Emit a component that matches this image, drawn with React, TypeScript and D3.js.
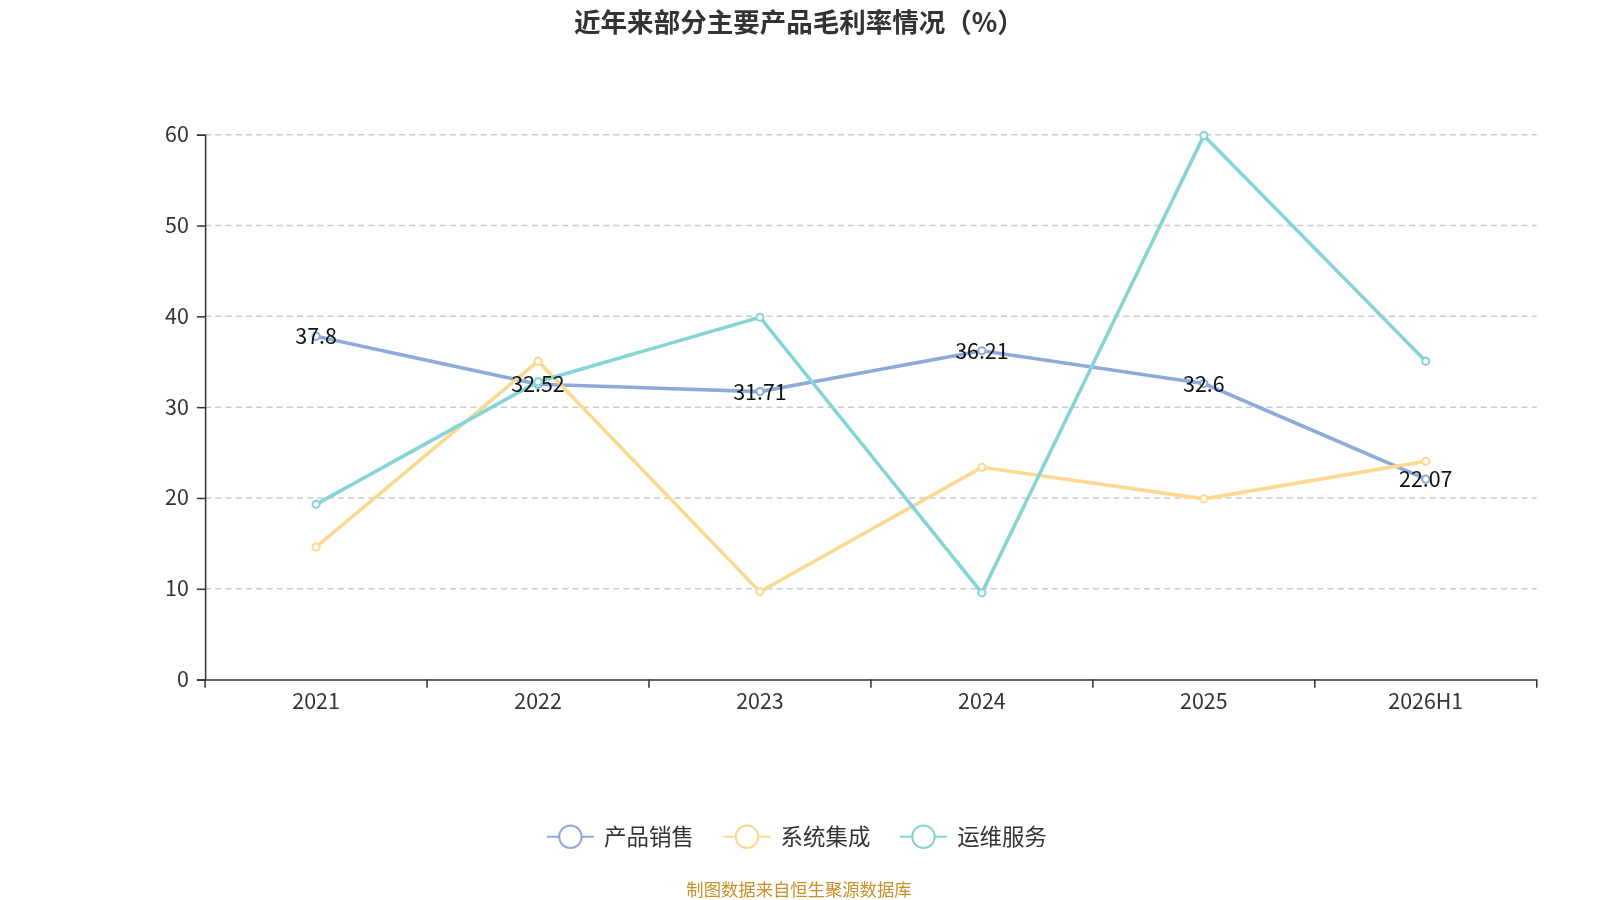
import { useEffect, useRef } from 'react';
import * as d3 from 'd3';

const categories = ["2021", "2022", "2023", "2024", "2025", "2026H1"];
const productSales = [37.8, 32.52, 31.71, 36.21, 32.6, 22.07];
const systemIntegration = [14.6, 35.06, 9.66, 23.37, 19.9, 24.04];
const opsService = [19.3, 32.8, 39.9, 9.55, 59.9, 35.06];
const yTicks = [0, 10, 20, 30, 40, 50, 60];

const seriesList = [
  { name: "产品销售", values: productSales, color: "#8eaadb" },
  { name: "系统集成", values: systemIntegration, color: "#fdd890" },
  { name: "运维服务", values: opsService, color: "#85d4d6" },
];

export default function App() {
  const ref = useRef<SVGSVGElement | null>(null);

  useEffect(() => {
    if (!ref.current) return;
    const svg = d3.select(ref.current);
    svg.selectAll("*").remove();
    const font = "'Noto Sans CJK SC', 'Noto Sans', sans-serif";
    const margin = { top: 132, right: 94, bottom: 234, left: 201 };
    const width = 1600, height = 900;

    const x = d3.scaleBand().domain(categories).range([margin.left, width - margin.right]);
    const y = d3.scaleLinear().domain([0, 60]).range([height - margin.bottom, margin.top]);

    svg.append("text").attr("x", 783).attr("y", 31).attr("text-anchor", "middle")
      .attr("font-family", font).attr("font-size", 26).attr("font-weight", "bold").attr("fill", "#333")
      .text("近年来部分主要产品毛利率情况（%）");

    svg.selectAll("line.grid").data(yTicks.filter(t => t > 0)).enter().append("line")
      .attr("x1", margin.left).attr("x2", width - margin.right)
      .attr("y1", d => y(d)).attr("y2", d => y(d))
      .attr("stroke", "#ccc").attr("stroke-dasharray", "6,4").attr("stroke-width", 1.5);

    const yAxis = svg.append("g").attr("transform", `translate(${margin.left},0)`)
      .call(d3.axisLeft(y).tickValues(yTicks).tickSize(8).tickPadding(8));
    yAxis.selectAll("text").attr("font-size", 21).attr("font-family", font).attr("fill", "#333");
    yAxis.selectAll("line,path").attr("stroke", "#333").attr("stroke-width", 1.5);

    const xAxis = svg.append("g").attr("transform", `translate(0,${y(0)})`)
      .call(d3.axisBottom(x).tickSize(0).tickPadding(14));
    xAxis.selectAll("text").attr("font-size", 21).attr("font-family", font).attr("fill", "#333");
    xAxis.select("path").attr("stroke", "#333").attr("stroke-width", 1.5);
    const edges = categories.map(c => x(c)!).concat([width - margin.right]);
    xAxis.selectAll("line.edge").data(edges).enter().append("line")
      .attr("x1", d => d).attr("x2", d => d).attr("y1", 0).attr("y2", 8)
      .attr("stroke", "#333").attr("stroke-width", 1.5);

    const cx = (i: number) => x(categories[i])! + x.bandwidth() / 2;
    const line = d3.line<number>().x((_, i) => cx(i)).y(d => y(d));

    seriesList.forEach(s => {
      svg.append("path").datum(s.values).attr("d", line).attr("fill", "none")
        .attr("stroke", s.color).attr("stroke-width", 3.5);
      svg.selectAll(null).data(s.values).enter().append("circle")
        .attr("cx", (_, i) => cx(i)).attr("cy", d => y(d)).attr("r", 3.5)
        .attr("fill", "#fff").attr("stroke", s.color).attr("stroke-width", 2);
    });

    productSales.forEach((v, i) => {
      svg.append("text").attr("x", cx(i)).attr("y", y(v) + 8).attr("text-anchor", "middle")
        .attr("font-family", font).attr("font-size", 21).attr("fill", "#111").text(String(v));
    });

    const legendX = [536, 709, 882];
    seriesList.forEach((s, i) => {
      const g = svg.append("g").attr("transform", `translate(${legendX[i]},820)`);
      g.append("line").attr("x1", 0).attr("x2", 46).attr("stroke", s.color).attr("stroke-width", 2);
      g.append("circle").attr("cx", 23).attr("r", 11).attr("fill", "#fff").attr("stroke", s.color).attr("stroke-width", 2);
      g.append("text").attr("x", 56).attr("y", 8).attr("font-family", font).attr("font-size", 22)
        .attr("fill", "#333").text(s.name);
    });

    svg.append("text").attr("x", 783).attr("y", 878).attr("text-anchor", "middle")
      .attr("font-family", font).attr("font-size", 17).attr("fill", "#c8902a")
      .text("制图数据来自恒生聚源数据库");
  }, []);

  return <svg ref={ref} width={1600} height={900} viewBox="0 0 1568 882"
    style={{ position: "fixed", left: 0, top: 0 }} />;
}
